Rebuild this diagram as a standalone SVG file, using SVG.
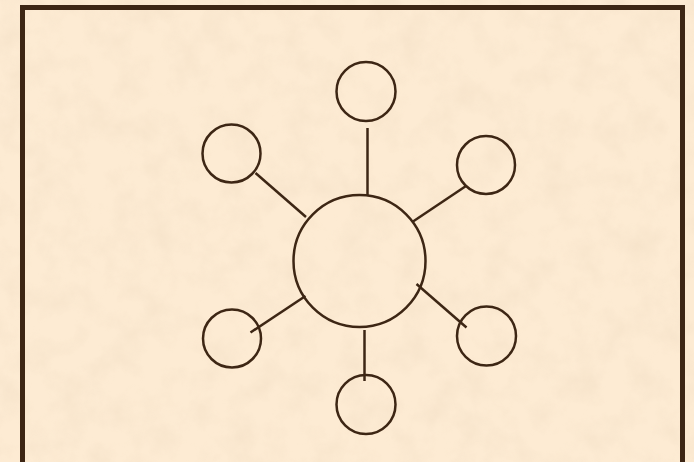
<svg xmlns="http://www.w3.org/2000/svg" width="694" height="462" viewBox="0 0 694 462">
<defs>
<filter id="paper" x="0" y="0" width="100%" height="100%">
<feTurbulence type="fractalNoise" baseFrequency="0.035" numOctaves="4" seed="3" result="n"/>
<feColorMatrix in="n" type="matrix" values="0 0 0 0 0.80  0 0 0 0 0.65  0 0 0 0 0.48  0 0 0 0.9 -0.35"/>
</filter>
<style>
.node{fill:none;stroke:#3d2614;stroke-width:2.5}
.edge{stroke:#3d2614;stroke-width:2.5;fill:none}
</style>
</defs>
<rect width="694" height="462" fill="#fdebd3"/>
<rect width="694" height="462" filter="url(#paper)" opacity="0.55"/>
<rect x="22.5" y="7.5" width="660" height="470" fill="none" stroke="#3d2614" stroke-width="5"/>
<g id="connectors">
<line class="edge" x1="367.5" y1="128" x2="367.5" y2="195"/>
<line class="edge" x1="255.5" y1="173" x2="306" y2="217"/>
<line class="edge" x1="466" y1="186" x2="413" y2="221.5"/>
<line class="edge" x1="250.5" y1="332.5" x2="305.5" y2="296"/>
<line class="edge" x1="416.5" y1="284" x2="466.5" y2="327.5"/>
<line class="edge" x1="364.5" y1="330" x2="364.5" y2="381"/>
</g>
<g id="center"><circle class="node" cx="359.5" cy="261" r="66"/></g>
<g id="n-top"><circle class="node" cx="366" cy="91.5" r="29.5"/></g>
<g id="n-upper-left"><circle class="node" cx="231.5" cy="153.5" r="29"/></g>
<g id="n-upper-right"><circle class="node" cx="486" cy="165" r="29"/></g>
<g id="n-lower-left"><circle class="node" cx="232" cy="338.5" r="29"/></g>
<g id="n-lower-right"><circle class="node" cx="486.5" cy="336" r="29.5"/></g>
<g id="n-bottom"><circle class="node" cx="366" cy="404.5" r="29.5"/></g>
</svg>
